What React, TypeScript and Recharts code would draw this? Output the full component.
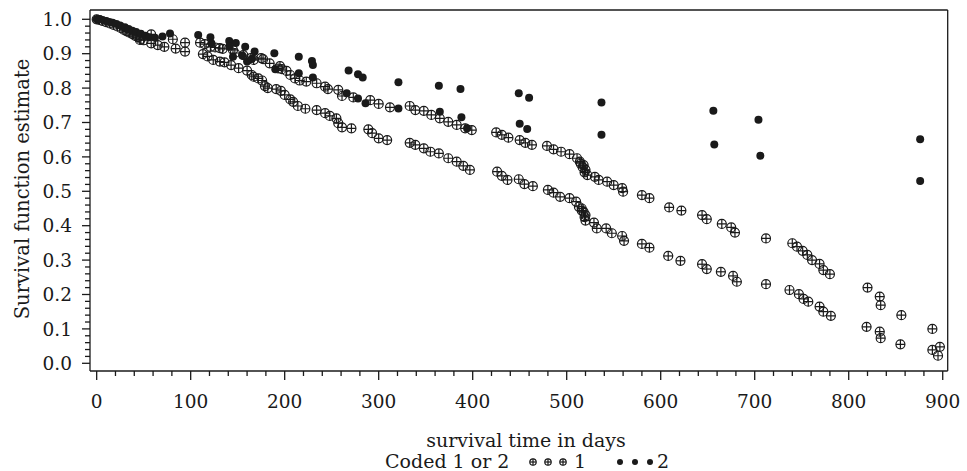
import { ScatterChart, Scatter, XAxis, YAxis, ReferenceLine } from "recharts";

// survival time (days), survival function estimate
const group1Early: [number, number][] = [
  [0, 1.0], [3, 0.998], [6, 0.995], [10, 0.992], [14, 0.988], [18, 0.984], [22, 0.979],
  [26, 0.974], [29, 0.969], [32, 0.965], [35, 0.961], [38, 0.957], [41, 0.952], [44, 0.948],
  [46, 0.94], [47, 0.943], [50, 0.939], [58, 0.956], [58, 0.93], [65, 0.925], [72, 0.92],
  [81, 0.942], [84, 0.915], [94, 0.932], [94, 0.906],
];

const group1Upper: [number, number][] = [
  [110, 0.932], [115, 0.928], [121, 0.92], [126, 0.918], [131, 0.916], [134, 0.914],
  [145, 0.911], [147, 0.902], [156, 0.896], [164, 0.887], [167, 0.882], [175, 0.887],
  [177, 0.884], [184, 0.872], [193, 0.857], [195, 0.864], [197, 0.855], [202, 0.85],
  [206, 0.838], [211, 0.828], [216, 0.822], [223, 0.819], [234, 0.814], [243, 0.804],
  [246, 0.797], [257, 0.795], [261, 0.777], [273, 0.773], [291, 0.765], [300, 0.754],
  [312, 0.744], [333, 0.748], [339, 0.736], [348, 0.734], [356, 0.722], [365, 0.712],
  [374, 0.702], [383, 0.693], [392, 0.683], [399, 0.678], [425, 0.671], [431, 0.664],
  [438, 0.656], [450, 0.649], [456, 0.641], [463, 0.635], [479, 0.632], [486, 0.622],
  [494, 0.615], [503, 0.608], [511, 0.596], [514, 0.586], [515, 0.58], [517, 0.57],
  [518, 0.576], [519, 0.555], [520, 0.562], [522, 0.547], [530, 0.542], [534, 0.533],
  [543, 0.528], [550, 0.518], [559, 0.509], [560, 0.499], [580, 0.489], [588, 0.48],
  [609, 0.453], [622, 0.444], [644, 0.431], [649, 0.419], [665, 0.405], [675, 0.395],
  [679, 0.38], [712, 0.363], [740, 0.349], [745, 0.339], [751, 0.327], [756, 0.315],
  [761, 0.3], [769, 0.289], [773, 0.271], [780, 0.259], [820, 0.22], [833, 0.194],
  [834, 0.169], [856, 0.14], [889, 0.1],
];

const group1Lower: [number, number][] = [
  [113, 0.899], [118, 0.892], [124, 0.882], [131, 0.877], [136, 0.875], [143, 0.867],
  [151, 0.858], [160, 0.851], [165, 0.838], [167, 0.833], [172, 0.828], [176, 0.822],
  [179, 0.806], [182, 0.8], [191, 0.797], [196, 0.792], [200, 0.78], [206, 0.767],
  [209, 0.76], [214, 0.748], [222, 0.74], [234, 0.736], [243, 0.727], [248, 0.719],
  [255, 0.712], [257, 0.698], [261, 0.686], [271, 0.683], [289, 0.68], [293, 0.669],
  [300, 0.654], [309, 0.649], [333, 0.641], [339, 0.635], [348, 0.625], [355, 0.615],
  [364, 0.61], [374, 0.596], [383, 0.586], [390, 0.574], [397, 0.562], [426, 0.557],
  [431, 0.545], [437, 0.533], [449, 0.535], [455, 0.521], [464, 0.515], [480, 0.504],
  [486, 0.496], [493, 0.484], [503, 0.48], [510, 0.47], [513, 0.455], [516, 0.45],
  [516, 0.444], [518, 0.44], [519, 0.425], [520, 0.431], [520, 0.415], [529, 0.409],
  [532, 0.392], [542, 0.392], [548, 0.378], [559, 0.37], [561, 0.356], [580, 0.347],
  [588, 0.336], [608, 0.312], [621, 0.298], [644, 0.288], [649, 0.274], [664, 0.266],
  [677, 0.254], [681, 0.237], [712, 0.23], [737, 0.213], [747, 0.201], [752, 0.187],
  [757, 0.179], [769, 0.165], [773, 0.15], [781, 0.138], [819, 0.106], [833, 0.092],
  [834, 0.073], [855, 0.055], [889, 0.039], [897, 0.048], [895, 0.022],
];

const group2: [number, number][] = [
  [0, 1.0], [3, 1.0], [8, 0.996], [12, 0.993], [17, 0.99], [21, 0.986], [25, 0.982],
  [30, 0.977], [34, 0.972], [38, 0.967], [42, 0.963], [47, 0.958], [52, 0.952], [56, 0.948],
  [62, 0.946], [70, 0.95], [78, 0.959], [108, 0.954], [121, 0.948], [122, 0.93],
  [141, 0.937], [148, 0.931], [141, 0.92], [158, 0.92], [168, 0.906], [145, 0.891],
  [160, 0.877], [155, 0.895], [165, 0.885], [189, 0.901], [190, 0.855], [215, 0.891],
  [215, 0.843], [229, 0.879], [230, 0.867], [230, 0.831], [266, 0.785], [268, 0.851],
  [278, 0.84], [278, 0.77], [283, 0.831], [286, 0.756], [321, 0.817], [321, 0.741],
  [364, 0.807], [365, 0.731], [387, 0.797], [388, 0.715], [394, 0.683], [449, 0.785],
  [460, 0.772], [450, 0.696], [458, 0.681], [537, 0.758], [537, 0.664], [656, 0.734],
  [657, 0.636], [704, 0.708], [706, 0.603], [876, 0.651], [876, 0.53],
];

const xMajorTicks = [0, 100, 200, 300, 400, 500, 600, 700, 800, 900];
const yMajorTicks = [0.0, 0.1, 0.2, 0.3, 0.4, 0.5, 0.6, 0.7, 0.8, 0.9, 1.0];
// minor ticks every 20 days / every 0.02
const xTicks = Array.from({ length: 46 }, (_, i) => i * 20);
const yTicks = Array.from({ length: 51 }, (_, i) => (i * 2) / 100);

const X_DOMAIN: [number, number] = [-7.1, 905.3];
const Y_DOMAIN: [number, number] = [-0.0224, 1.027];
const INK = "#1a1a1a";
const FONT = "DejaVu Serif";

const toPoints = (rows: [number, number][]) => rows.map(([x, y]) => ({ x, y }));
const data1 = toPoints([...group1Early, ...group1Upper, ...group1Lower]);
const data2 = toPoints(group2);

function CrossCircle({ cx, cy, r = 4.5 }: any) {
  if (cx == null || cy == null) return null;
  return (
    <g stroke={INK} strokeWidth={1.2} fill="none">
      <circle cx={cx} cy={cy} r={r} />
      <line x1={cx - r} x2={cx + r} y1={cy} y2={cy} />
      <line x1={cx} x2={cx} y1={cy - r} y2={cy + r} />
    </g>
  );
}

function Dot({ cx, cy, r = 4 }: any) {
  if (cx == null || cy == null) return null;
  return <circle cx={cx} cy={cy} r={r} fill={INK} />;
}

function XTick({ x, y, payload }: any) {
  const v = payload.value;
  const major = xMajorTicks.includes(v);
  return (
    <g>
      <line x1={x} x2={x} y1={y} y2={y + (major ? 9 : 5)} stroke={INK} strokeWidth={1.3} />
      {major && (
        <text x={x} y={y + 37} textAnchor="middle" fontFamily={FONT} fontSize={18.5} fill={INK}>
          {v}
        </text>
      )}
    </g>
  );
}

function YTick({ x, y, payload }: any) {
  const v = payload.value;
  const major = yMajorTicks.some((t) => Math.abs(t - v) < 1e-6);
  return (
    <g>
      <line x1={x - (major ? 8 : 5)} x2={x} y1={y} y2={y} stroke={INK} strokeWidth={1.3} />
      {major && (
        <text x={x - 18} y={y} dy="0.36em" textAnchor="end" fontFamily={FONT} fontSize={18.5} fill={INK}>
          {v.toFixed(1)}
        </text>
      )}
    </g>
  );
}

function BottomTitles() {
  return (
    <g fontFamily={FONT} fill={INK}>
      <text x={526} y={447} textAnchor="middle" fontSize={19}>
        survival time in days
      </text>
      <text x={385} y={468} fontSize={19}>
        Coded 1 or 2
      </text>
      {[533, 548, 563].map((cx) => (
        <CrossCircle key={cx} cx={cx} cy={462} r={3.2} />
      ))}
      <text x={574} y={468} fontSize={19}>1</text>
      {[620, 635, 650].map((cx) => (
        <Dot key={cx} cx={cx} cy={462} r={3} />
      ))}
      <text x={657} y={468} fontSize={19}>2</text>
    </g>
  );
}

function LeftTitle() {
  return (
    <text
      transform="rotate(-90)"
      x={-189}
      y={29}
      textAnchor="middle"
      fontFamily={FONT}
      fontSize={19.5}
      fill={INK}
    >
      Survival function estimate
    </text>
  );
}

const axisLine = { stroke: INK, strokeWidth: 1.3 };

export default function App() {
  return (
    <div style={{ position: "absolute", left: 0, top: 0, background: "#fff" }}>
      <ScatterChart width={967} height={471} margin={{ top: 10, right: 19.3, bottom: 70, left: 0 }}>
        <XAxis
          dataKey="x"
          type="number"
          domain={X_DOMAIN}
          allowDataOverflow
          ticks={xTicks}
          interval={0}
          tick={<XTick />}
          tickLine={false}
          tickSize={0}
          tickMargin={0}
          height={30}
          axisLine={axisLine}
          label={{ content: () => <BottomTitles /> }}
        />
        <YAxis
          dataKey="y"
          type="number"
          domain={Y_DOMAIN}
          allowDataOverflow
          ticks={yTicks}
          interval={0}
          tick={<YTick />}
          tickLine={false}
          tickSize={0}
          tickMargin={0}
          width={90}
          axisLine={axisLine}
          label={{ content: () => <LeftTitle /> }}
        />
        {/* frame: top and right edges */}
        <ReferenceLine y={Y_DOMAIN[1]} stroke={INK} strokeWidth={1.3} ifOverflow="visible" />
        <ReferenceLine x={X_DOMAIN[1]} stroke={INK} strokeWidth={1.3} ifOverflow="visible" />
        <Scatter name="1" data={data1} shape={<CrossCircle />} isAnimationActive={false} />
        <Scatter name="2" data={data2} shape={<Dot />} isAnimationActive={false} />
      </ScatterChart>
    </div>
  );
}
